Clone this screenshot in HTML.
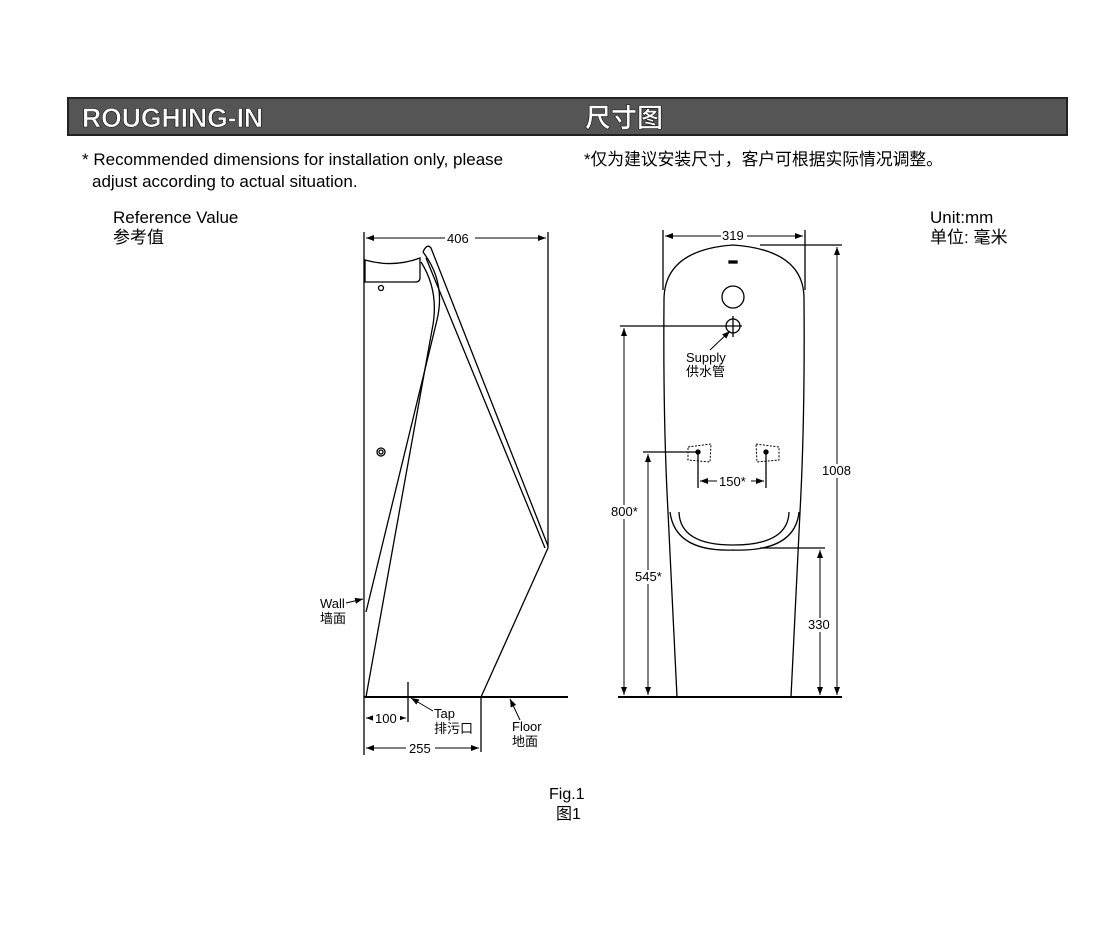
<!DOCTYPE html>
<html><head><meta charset="utf-8"><style>
body{margin:0;background:#fff}
svg text{font-family:"Liberation Sans","Noto Sans CJK SC",sans-serif;fill:#000}
</style></head><body>
<svg width="1120" height="920" viewBox="0 0 1120 920" xmlns="http://www.w3.org/2000/svg">
<defs>
<marker id="a" markerWidth="8" markerHeight="6" refX="8" refY="3" orient="auto-start-reverse" markerUnits="userSpaceOnUse"><path d="M0,0L8,3L0,6z" fill="#000"/></marker>
</defs>
<rect x="68" y="98" width="999" height="37" fill="#555" stroke="#222" stroke-width="2"/>
<text x="82" y="127" font-size="26.5" font-weight="bold" style="fill:#fff;stroke:#111;stroke-width:0.6">ROUGHING-IN</text>
<text x="585" y="127" font-size="26" font-weight="bold" style="fill:#fff;stroke:#111;stroke-width:0.6">尺寸图</text>
<g font-size="17">
<text x="82" y="165">* Recommended dimensions for installation only, please</text>
<text x="92" y="187">adjust according to actual situation.</text>
<text x="584" y="165" font-size="16.8">*仅为建议安装尺寸，客户可根据实际情况调整。</text>
<text x="113" y="223">Reference Value</text>
<text x="113" y="243">参考值</text>
<text x="930" y="223">Unit:mm</text>
<text x="930" y="243">单位:  毫米</text>
<text x="549" y="799" font-size="16">Fig.1</text>
<text x="556" y="819" font-size="16">图1</text>
</g>
<g stroke="#000" fill="none" stroke-width="1.3">
<line x1="364" y1="232" x2="364" y2="755"/>
<line x1="548" y1="232" x2="548" y2="548"/>
<line x1="366" y1="238" x2="546" y2="238" marker-start="url(#a)" marker-end="url(#a)" stroke-width="1"/>
<path d="M365,282 L365,260 Q393,268 420,258 L420,278 Q420,282 415,282 Z"/>
<circle cx="381" cy="288" r="2.5"/>
<circle cx="381" cy="452" r="4"/><circle cx="381" cy="452" r="2"/>
<path d="M423,252 Q427,243 431,248 L548,546"/>
<path d="M426,258 L545,548"/>
<path d="M548,548 L481,697"/>
<path d="M423,252 Q446,282 437,320 L366,612"/>
<path d="M421,262 Q440,292 432,330 L366,697"/>
<line x1="364" y1="697" x2="568" y2="697" stroke-width="2"/>
<line x1="408" y1="682" x2="408" y2="722"/>
<line x1="481" y1="697" x2="481" y2="752"/>
<line x1="366" y1="718" x2="406" y2="718" marker-start="url(#a)" marker-end="url(#a)" stroke-width="1"/>
<line x1="366" y1="748" x2="479" y2="748" marker-start="url(#a)" marker-end="url(#a)" stroke-width="1"/>
<line x1="433" y1="711" x2="411" y2="698" marker-end="url(#a)" stroke-width="1"/>
<line x1="520" y1="720" x2="510" y2="699" marker-end="url(#a)" stroke-width="1"/>
<line x1="346" y1="603" x2="363" y2="599" marker-end="url(#a)" stroke-width="1"/>
<path d="M677,697 L668,512 Q663,420 664,300 Q664,250 733,245 Q805,250 804,300 Q805,420 800,512 L791,697"/>
<path d="M670,512 Q675,552 733,550 Q795,552 799,512"/>
<path d="M679,512 Q680,545 733,545 Q788,545 789,512"/>
<circle cx="733" cy="297" r="11"/>
<rect x="729" y="261" width="8" height="2" fill="#000"/>
<circle cx="733" cy="326" r="7"/>
<line x1="733" y1="316" x2="733" y2="337"/>
<line x1="620" y1="326" x2="742" y2="326"/>
<line x1="710" y1="350" x2="730" y2="331" marker-end="url(#a)" stroke-width="1"/>
<path d="M688,447 L711,444 L710,462 L688,460 Z" stroke-dasharray="2,1.5" stroke-width="1"/>
<path d="M756,444 L779,447 L779,460 L757,462 Z" stroke-dasharray="2,1.5" stroke-width="1"/>
<circle cx="698" cy="452" r="2" fill="#000"/><circle cx="766" cy="452" r="2" fill="#000"/>
<line x1="643" y1="452" x2="698" y2="452"/>
<line x1="698" y1="452" x2="698" y2="488"/>
<line x1="766" y1="452" x2="766" y2="488"/>
<line x1="700" y1="481" x2="764" y2="481" marker-start="url(#a)" marker-end="url(#a)" stroke-width="1"/>
<line x1="663" y1="230" x2="663" y2="290"/>
<line x1="805" y1="230" x2="805" y2="290"/>
<line x1="665" y1="236" x2="803" y2="236" marker-start="url(#a)" marker-end="url(#a)" stroke-width="1"/>
<line x1="760" y1="245" x2="842" y2="245"/>
<line x1="837" y1="247" x2="837" y2="695" marker-start="url(#a)" marker-end="url(#a)" stroke-width="1"/>
<line x1="624" y1="328" x2="624" y2="695" marker-start="url(#a)" marker-end="url(#a)" stroke-width="1"/>
<line x1="648" y1="454" x2="648" y2="695" marker-start="url(#a)" marker-end="url(#a)" stroke-width="1"/>
<line x1="760" y1="548" x2="825" y2="548"/>
<line x1="820" y1="550" x2="820" y2="695" marker-start="url(#a)" marker-end="url(#a)" stroke-width="1"/>
<line x1="618" y1="697" x2="842" y2="697" stroke-width="2"/>
</g>
<g font-size="13">
<rect x="445" y="232" width="30" height="12" fill="#fff"/><text x="447" y="243">406</text>
<rect x="721" y="230" width="26" height="12" fill="#fff"/><text x="722" y="240">319</text>
<rect x="373" y="712" width="27" height="12" fill="#fff"/><text x="375" y="723">100</text>
<rect x="406" y="742" width="29" height="12" fill="#fff"/><text x="409" y="753">255</text>
<rect x="717" y="475" width="34" height="12" fill="#fff"/><text x="719" y="486">150*</text>
<text x="434" y="718">Tap</text><text x="434" y="733">排污口</text>
<text x="512" y="731">Floor</text><text x="512" y="746">地面</text>
<text x="320" y="608">Wall</text><text x="320" y="623">墙面</text>
<text x="686" y="362">Supply</text><text x="686" y="376">供水管</text>
<rect x="610" y="505" width="31" height="14" fill="#fff"/><text x="611" y="516">800*</text>
<rect x="634" y="570" width="31" height="14" fill="#fff"/><text x="635" y="581">545*</text>
<rect x="807" y="618" width="27" height="14" fill="#fff"/><text x="808" y="629">330</text>
<rect x="822" y="464" width="32" height="14" fill="#fff"/><text x="822" y="475">1008</text>
</g>
</svg>
</body></html>
